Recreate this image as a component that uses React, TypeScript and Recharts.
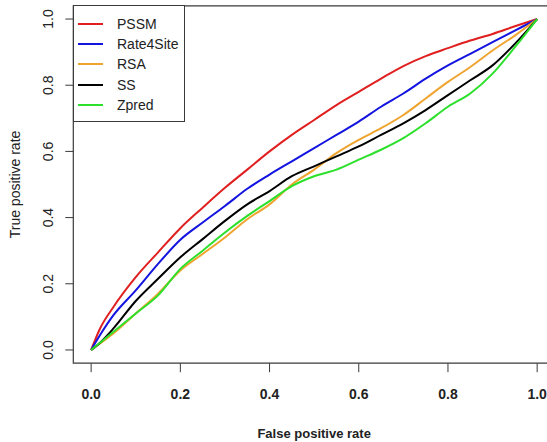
import { LineChart, Line, XAxis, YAxis, Legend, ReferenceArea } from 'recharts';

const fpr = [0, 0.02, 0.05, 0.1, 0.15, 0.2, 0.25, 0.3, 0.35, 0.4, 0.45, 0.5, 0.55, 0.6, 0.65, 0.7, 0.75, 0.8, 0.85, 0.9, 0.95, 1];
const pssm = [0, 0.065, 0.13, 0.22, 0.295, 0.368, 0.43, 0.49, 0.545, 0.6, 0.65, 0.695, 0.74, 0.78, 0.82, 0.858, 0.888, 0.912, 0.935, 0.955, 0.978, 1];
const rate4site = [0, 0.045, 0.105, 0.18, 0.26, 0.333, 0.385, 0.435, 0.487, 0.53, 0.57, 0.61, 0.65, 0.69, 0.735, 0.775, 0.82, 0.86, 0.895, 0.93, 0.965, 1];
const rsa = [0, 0.02, 0.05, 0.11, 0.17, 0.24, 0.29, 0.34, 0.395, 0.44, 0.5, 0.545, 0.595, 0.635, 0.67, 0.71, 0.76, 0.81, 0.855, 0.905, 0.95, 1];
const ss = [0, 0.022, 0.065, 0.148, 0.215, 0.28, 0.335, 0.39, 0.44, 0.48, 0.525, 0.555, 0.585, 0.615, 0.65, 0.685, 0.725, 0.77, 0.815, 0.86, 0.925, 1];
const zpred = [0, 0.022, 0.055, 0.11, 0.165, 0.245, 0.3, 0.355, 0.405, 0.45, 0.495, 0.525, 0.545, 0.575, 0.605, 0.64, 0.685, 0.735, 0.775, 0.835, 0.915, 1];
const ticks = [0, 0.2, 0.4, 0.6, 0.8, 1];
const seriesOrder = ['PSSM', 'Rate4Site', 'RSA', 'SS', 'Zpred'];

const data = fpr.map((x, i) => ({
  fpr: x,
  PSSM: pssm[i],
  Rate4Site: rate4site[i],
  RSA: rsa[i],
  SS: ss[i],
  Zpred: zpred[i],
}));

const frame = '#3a3a3a';

function YTick(props: any) {
  const { x, y, payload } = props;
  const cx = x - 15;
  return (
    <text x={cx} y={y} transform={`rotate(-90, ${cx}, ${y})`} textAnchor="middle" dominantBaseline="central" fontSize={14} fill="#222">
      {payload.value.toFixed(1)}
    </text>
  );
}

function LegendBox(props: any) {
  const items = [...(props.payload || [])].sort(
    (a: any, b: any) => seriesOrder.indexOf(a.value) - seriesOrder.indexOf(b.value)
  );
  return (
    <div style={{ border: `1px solid ${frame}`, width: 112, height: 117, boxSizing: 'border-box', background: '#fff', paddingTop: 8 }}>
      {items.map((it: any) => (
        <div key={it.value} style={{ display: 'flex', alignItems: 'center', height: 20.2 }}>
          <div style={{ width: 25, height: 2, background: it.color, marginLeft: 4, marginRight: 14 }} />
          <span style={{ fontSize: 14, color: '#222', lineHeight: '20px' }}>{it.value}</span>
        </div>
      ))}
    </div>
  );
}

export default function App() {
  return (
    <div style={{ position: 'absolute', left: 0, top: 0, width: 547, height: 442, overflow: 'hidden', background: '#fff', fontFamily: '"Liberation Sans", Arial, sans-serif' }}>
      <LineChart width={560} height={442} data={data} margin={{ top: 5.8, right: 5, bottom: 0, left: 0 }}>
        <XAxis
          dataKey="fpr"
          type="number"
          domain={[-0.04, 1.04]}
          ticks={ticks}
          tickFormatter={(v: number) => v.toFixed(1)}
          axisLine={false}
          tickLine={{ stroke: frame }}
          tickSize={9}
          tickMargin={17}
          height={78.8}
          tick={{ fontSize: 14, fontWeight: 'bold', fill: '#222' }}
          label={{
            content: ({ viewBox }: any) => (
              <text x={viewBox.x + viewBox.width / 2} y={viewBox.y + 70} textAnchor="middle" dominantBaseline="central" fontSize={13} fontWeight="bold" fill="#222">
                False positive rate
              </text>
            ),
          }}
        />
        <YAxis
          type="number"
          domain={[-0.04, 1.04]}
          ticks={ticks}
          width={73.3}
          axisLine={false}
          tickLine={{ stroke: frame }}
          tickSize={8}
          tickMargin={2}
          tick={<YTick />}
          label={{
            content: ({ viewBox }: any) => {
              const cy = viewBox.y + viewBox.height / 2;
              return (
                <text x={15} y={cy} transform={`rotate(-90, 15, ${cy})`} textAnchor="middle" dominantBaseline="central" fontSize={14} fill="#222">
                  True positive rate
                </text>
              );
            },
          }}
        />
        <ReferenceArea x1={-0.04} x2={1.04} y1={-0.04} y2={1.04} fill="none" stroke={frame} strokeWidth={1.2} ifOverflow="visible" />
        <Legend
          layout="vertical"
          align="center"
          verticalAlign="middle"
          content={<LegendBox />}
          wrapperStyle={{ left: 73, top: 5, width: 112, height: 117 }}
        />
        <Line type="monotone" dataKey="PSSM" stroke="#e02020" strokeWidth={2} dot={false} isAnimationActive={false} />
        <Line type="monotone" dataKey="Rate4Site" stroke="#1414e0" strokeWidth={2} dot={false} isAnimationActive={false} />
        <Line type="monotone" dataKey="RSA" stroke="#f0a430" strokeWidth={2} dot={false} isAnimationActive={false} />
        <Line type="monotone" dataKey="SS" stroke="#000000" strokeWidth={2} dot={false} isAnimationActive={false} />
        <Line type="monotone" dataKey="Zpred" stroke="#2ce02c" strokeWidth={2} dot={false} isAnimationActive={false} />
      </LineChart>
    </div>
  );
}
